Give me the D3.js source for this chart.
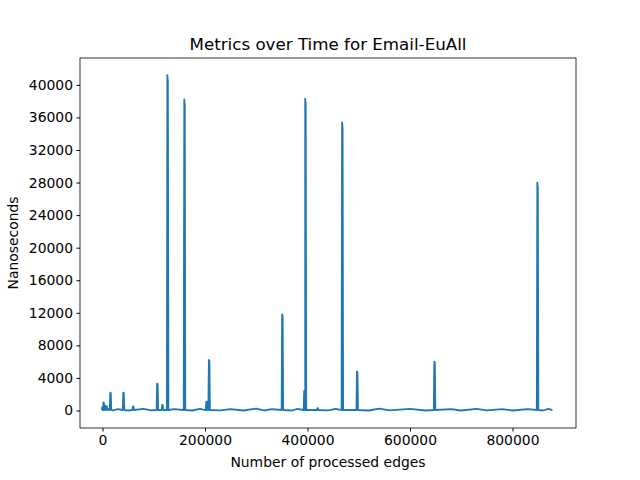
<!doctype html>
<html>
  <head>
    <meta charset="utf8">
    <script src="https://d3js.org/d3.v7.min.js"></script>
    <style type="text/css">
      body { margin: 0; background: #fff; font-family: 'DejaVu Sans', sans-serif; }
    </style>
  </head>
  <body>
    <script type="text/javascript">
      const w = 640;
      const h = 480;
      const margin = {top: 58, right: 64, bottom: 52, left: 80};

      // spikes: [edges, nanoseconds]
      const spikes = [
        [0, 400], [2000, 1000], [5000, 600], [8000, 500], [15600, 2200], [41000, 2200],
        [60000, 500], [107000, 3300], [117000, 700], [127000, 41200], [160000, 38200],
        [203000, 1100], [208000, 6200], [351000, 11800], [394000, 2400], [396000, 38300],
        [420000, 300], [468000, 35400], [497000, 4800], [648000, 6000], [849000, 28000]
      ];
      // low baseline samples between spikes (noisy band)
      const baseline = [
        [1000, 80], [12000, 200], [20000, 0], [30000, 160], [50000, 0], [80000, 190], [95000, 10],
        [140000, 170], [175000, 0], [190000, 200], [230000, 10], [250000, 180], [275000, 0],
        [300000, 230], [315000, 0], [330000, 160], [370000, 0], [380000, 190], [440000, 10],
        [455000, 200], [520000, 0], [540000, 220], [560000, 10], [600000, 190], [630000, 0],
        [680000, 170], [700000, 0], [730000, 200], [750000, 10], [780000, 180], [800000, 0],
        [830000, 170], [860000, 0], [870000, 190], [878000, 60]
      ];
      const xTicks = [0, 200000, 400000, 600000, 800000];
      const yTicks = d3.range(0, 40001, 4000);

      // build the series: each spike rises from the baseline and drops back
      const points = baseline.slice();
      spikes.forEach(([x, y]) => {
        points.push([x - 1500, 60], [x - 500, y], [x + 500, y * 0.98], [x + 1500, 60]);
      });
      points.sort((a, b) => a[0] - b[0]);

      const xScale = d3.scaleLinear()
        .domain([-44000, 924000])
        .range([margin.left, w - margin.right]);
      const yScale = d3.scaleLinear()
        .domain([-2150, 43300])
        .range([h - margin.bottom, margin.top]);

      const svg = d3.select('body').append('svg')
        .attr('width', w).attr('height', h);

      svg.append('path')
        .datum(points)
        .attr('fill', 'none')
        .attr('stroke', '#1f77b4')
        .attr('stroke-width', 1.8)
        .attr('stroke-linejoin', 'round')
        .attr('d', d3.line().x(d => xScale(d[0])).y(d => yScale(d[1])));

      const xAxis = svg.append('g')
        .attr('transform', `translate(0,${h - margin.bottom})`)
        .call(d3.axisBottom(xScale).tickValues(xTicks).tickFormat(d3.format('d')).tickSizeOuter(0).tickSize(3.5).tickPadding(3.5));
      const yAxis = svg.append('g')
        .attr('transform', `translate(${margin.left},0)`)
        .call(d3.axisLeft(yScale).tickValues(yTicks).tickFormat(d3.format('d')).tickSizeOuter(0).tickSize(3.5).tickPadding(3.5));
      [xAxis, yAxis].forEach(a => {
        a.selectAll('text').attr('font-size', '13.9px').attr('font-family', 'DejaVu Sans').attr('fill', '#000');
        a.selectAll('line').attr('stroke', '#000');
        a.select('.domain').remove();
      });

      svg.append('rect')
        .attr('x', margin.left).attr('y', margin.top)
        .attr('width', w - margin.left - margin.right)
        .attr('height', h - margin.top - margin.bottom)
        .attr('fill', 'none').attr('stroke', '#000').attr('stroke-width', 0.8);

      svg.append('text')
        .attr('x', (margin.left + w - margin.right) / 2).attr('y', margin.top - 8)
        .attr('text-anchor', 'middle').attr('font-size', '16.7px')
        .text('Metrics over Time for Email-EuAll');
      svg.append('text')
        .attr('x', (margin.left + w - margin.right) / 2).attr('y', h - 13)
        .attr('text-anchor', 'middle').attr('font-size', '13.9px')
        .text('Number of processed edges');
      svg.append('text')
        .attr('transform', `translate(18,${(margin.top + h - margin.bottom) / 2}) rotate(-90)`)
        .attr('text-anchor', 'middle').attr('font-size', '13.9px')
        .text('Nanoseconds');
    </script>
  </body>
</html>
